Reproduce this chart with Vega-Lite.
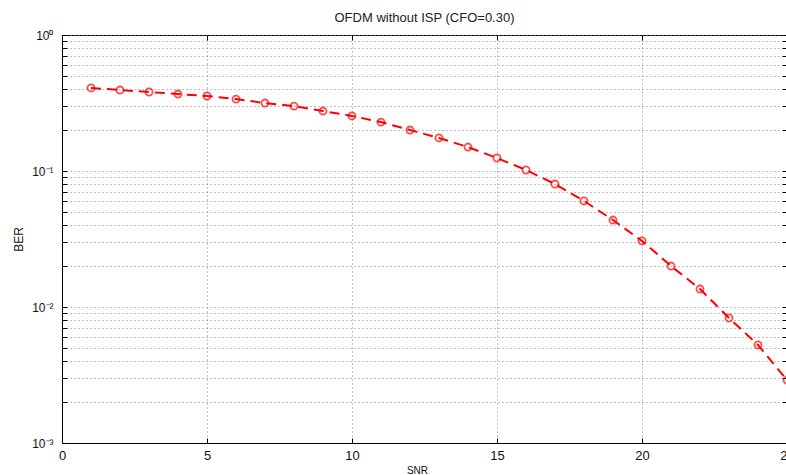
{
  "$schema": "https://vega.github.io/schema/vega-lite/v6.json",
  "width": 725,
  "height": 408,
  "autosize": "none",
  "padding": {"left": 62, "top": 35, "right": 0, "bottom": 32},
  "background": "white",
  "title": {"text": "OFDM without ISP (CFO=0.30)", "font": "Liberation Sans", "fontSize": 13, "fontWeight": "normal", "color": "#222", "anchor": "middle", "offset": 4},
  "config": {
    "view": {"stroke": "black", "strokeWidth": 1},
    "axis": {"domainColor": "black", "tickColor": "black", "labelFont": "Liberation Sans", "labelColor": "#111", "titleFont": "Liberation Sans", "titleFontWeight": "normal", "titleColor": "#111", "gridColor": "#808080", "gridDash": [1, 3], "gridWidth": 1}
  },
  "data": {"values": [
    {"SNR": 1, "BER": 0.408},
    {"SNR": 2, "BER": 0.394},
    {"SNR": 3, "BER": 0.381},
    {"SNR": 4, "BER": 0.368},
    {"SNR": 5, "BER": 0.356},
    {"SNR": 6, "BER": 0.338},
    {"SNR": 7, "BER": 0.316},
    {"SNR": 8, "BER": 0.300},
    {"SNR": 9, "BER": 0.276},
    {"SNR": 10, "BER": 0.254},
    {"SNR": 11, "BER": 0.229},
    {"SNR": 12, "BER": 0.200},
    {"SNR": 13, "BER": 0.175},
    {"SNR": 14, "BER": 0.150},
    {"SNR": 15, "BER": 0.1246},
    {"SNR": 16, "BER": 0.1017},
    {"SNR": 17, "BER": 0.0802},
    {"SNR": 18, "BER": 0.0602},
    {"SNR": 19, "BER": 0.0436},
    {"SNR": 20, "BER": 0.0306},
    {"SNR": 21, "BER": 0.0200},
    {"SNR": 22, "BER": 0.01356},
    {"SNR": 23, "BER": 0.0083},
    {"SNR": 24, "BER": 0.00526},
    {"SNR": 25, "BER": 0.0029}
  ]},
  "layer": [
    {
      "mark": {"type": "line", "color": "red", "strokeWidth": 2, "strokeDash": [10, 6], "clip": true},
      "encoding": {
        "x": {"field": "SNR", "type": "quantitative", "scale": {"domain": [0, 25], "nice": false, "zero": false},
          "axis": {"orient": "bottom", "title": "SNR", "titleFontSize": 10, "titleX": 355, "titleY": 30, "titleBaseline": "alphabetic", "values": [0, 5, 10, 15, 20, 25], "labelFontSize": 13, "labelPadding": 11, "tickSize": -5, "grid": true, "labelFlush": false, "labelOverlap": false}},
        "y": {"field": "BER", "type": "quantitative", "scale": {"type": "log", "domain": [0.001, 1], "nice": false},
          "axis": {"orient": "left", "title": "BER", "titleFontSize": 12, "titleX": -44, "titleY": 204, "titleBaseline": "middle", "titleAlign": "center", "labelFontSize": 12, "labelPadding": 14, "tickSize": -5, "grid": true, "labelOverlap": false, "labelFlush": false,
            "values": [0.001, 0.002, 0.003, 0.004, 0.005, 0.006, 0.007, 0.008, 0.009, 0.01, 0.02, 0.03, 0.04, 0.05, 0.06, 0.07, 0.08, 0.09, 0.1, 0.2, 0.3, 0.4, 0.5, 0.6, 0.7, 0.8, 0.9, 1],
            "labelExpr": "datum.value == 1 ? '10⁰' : datum.value == 0.1 ? '10⁻¹' : datum.value == 0.01 ? '10⁻²' : datum.value == 0.001 ? '10⁻³' : ''"}}
      }
    },
    {
      "mark": {"type": "point", "shape": "circle", "color": "red", "filled": false, "size": 50, "strokeWidth": 1.8},
      "encoding": {
        "x": {"field": "SNR", "type": "quantitative", "scale": {"domain": [0, 25], "nice": false, "zero": false},
          "axis": {"orient": "top", "title": null, "values": [0, 5, 10, 15, 20, 25], "labels": false, "tickSize": -5, "grid": false, "domain": false}},
        "y": {"field": "BER", "type": "quantitative", "scale": {"type": "log", "domain": [0.001, 1], "nice": false},
          "axis": {"orient": "right", "title": null, "labels": false, "tickSize": -5, "grid": false, "domain": false,
            "values": [0.001, 0.002, 0.003, 0.004, 0.005, 0.006, 0.007, 0.008, 0.009, 0.01, 0.02, 0.03, 0.04, 0.05, 0.06, 0.07, 0.08, 0.09, 0.1, 0.2, 0.3, 0.4, 0.5, 0.6, 0.7, 0.8, 0.9, 1]}}
      }
    }
  ],
  "resolve": {"axis": {"x": "independent", "y": "independent"}}
}
